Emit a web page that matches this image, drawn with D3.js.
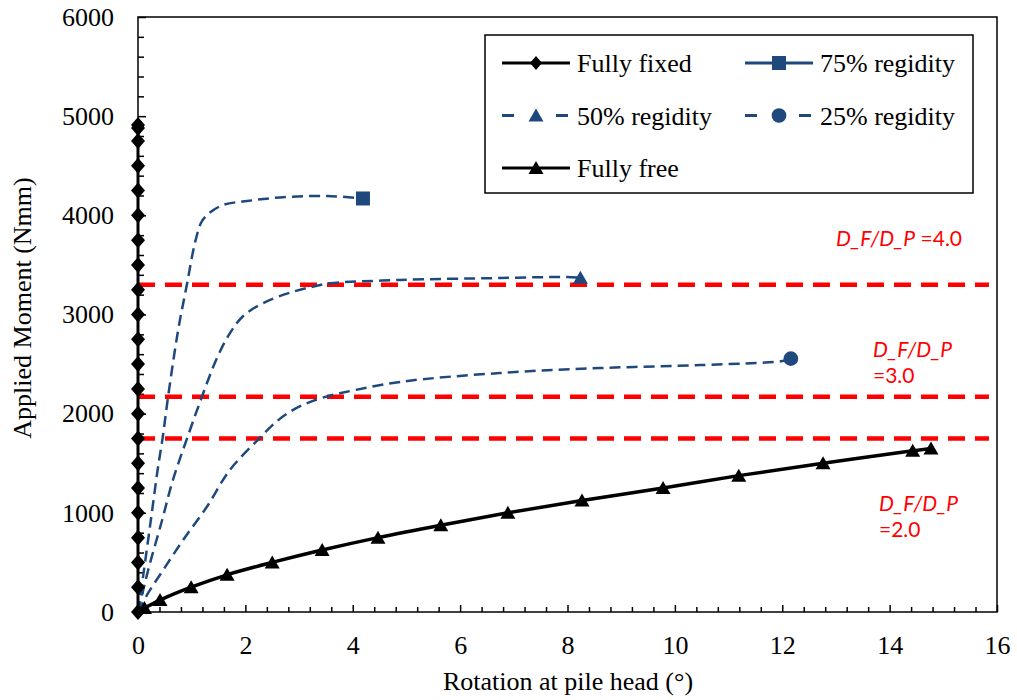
<!DOCTYPE html>
<html>
<head>
<meta charset="utf-8">
<script src="https://cdn.jsdelivr.net/npm/d3@7"></script>
<style>
  body { margin: 0; background: #fff; }
  text { font-family: "Liberation Serif", "Times New Roman", serif; }
</style>
</head>
<body>
<svg id="chart" width="1017" height="700"></svg>
<script>
// series (rotation in degrees, moment in Nmm)
const fixedRot = [0,0,0,0,0,0,0,0,0,0,0,0,0,0,0,0,0,0,0,0,0,0]
const fixedMoment = [0,250,500,750,1000,1250,1500,1750,2000,2250,2500,2750,3000,3250,3500,3750,4000,4250,4500,4750,4880,4910]

const r75Rot = [0,0.1,0.24,0.37,0.46,0.56,0.75,0.91,1.06,1.18,1.3,1.58,2.03,2.64,3.52,4.19]
const r75Moment = [0,380,930,1450,1760,2170,2850,3300,3720,3930,4010,4104,4144,4180,4195,4170]

const r50Rot = [0,0.19,0.45,0.65,0.92,1.19,1.47,1.71,1.96,2.33,2.83,3.33,3.58,4.88,6.74,7.99,8.24]
const r50Moment = [0,424,928,1331,1760,2170,2560,2810,2985,3115,3220,3290,3315,3348,3368,3378,3370]

const r25Rot = [0,0.19,0.47,0.84,1.28,1.71,2.23,2.59,2.85,3.1,3.4,3.8,4.88,6.74,8.6,10.47,12.0,12.16]
const r25Moment = [0,192,424,726,1059,1432,1734,1925,2025,2095,2155,2210,2320,2410,2460,2490,2530,2555]

const freeRot = [0.12,0.41,0.99,1.66,2.50,3.43,4.47,5.64,6.89,8.27,9.78,11.19,12.76,14.43,14.77]
const freeMoment = [40,120,250,375,500,625,750,875,1000,1125,1250,1375,1500,1625,1650]

const ratioLevels = [3300, 2170, 1750]
const ratioNames = ["D_F/D_P", "D_F/D_P", "D_F/D_P"]
const ratioValues = ["=4.0", "=3.0", "=2.0"]

const xMajor = [0,2,4,6,8,10,12,14,16]
const xMinor = [0.4,0.8,1.2,1.6,2.4,2.8,3.2,3.6,4.4,4.8,5.2,5.6,6.4,6.8,7.2,7.6,8.4,8.8,9.2,9.6,10.4,10.8,11.2,11.6,12.4,12.8,13.2,13.6,14.4,14.8,15.2,15.6]
const yMajor = [0,1000,2000,3000,4000,5000,6000]
const yMinor = [200,400,600,800,1200,1400,1600,1800,2200,2400,2600,2800,3200,3400,3600,3800,4200,4400,4600,4800,5200,5400,5600,5800]

const legendNames = ["Fully fixed", "75% regidity", "50% regidity", "25% regidity", "Fully free"]

const blue = "#1f497d"

const zip = (xs, ys) => xs.map((v, i) => ({x: v, y: ys[i]}))

let svg = d3.select("#chart")
let x = d3.scaleLinear().domain([0, 16]).range([138, 997]),
    y = d3.scaleLinear().domain([0, 6000]).range([612, 17])

svg.append("rect").attr("width", 1017).attr("height", 700).attr("fill", "#fff")

// marker shapes
const diamond = "M0,-8L7,0L0,8L-7,0Z"
const smallDiamond = "M0,-7L6,0L0,7L-6,0Z"
const triangle = "M0,-7L7.5,6L-7.5,6Z"
const square = "M-7,-7H7V7H-7Z"
const circle = d3.symbol(d3.symbolCircle, 170)()

// axes with inward ticks
const styleAxis = g => {
    g.select(".domain").remove()
    g.selectAll("line").attr("stroke", "#000").attr("stroke-width", 1.5)
    g.selectAll("text").style("font-family", '"Liberation Serif", "Times New Roman", serif').style("font-size", "26px").attr("fill", "#000")
}

svg.append("g").attr("transform", "translate(0,612)")
    .call(d3.axisBottom(x).tickValues(xMinor).tickFormat("").tickSizeInner(-5).tickSizeOuter(0))
    .call(styleAxis)
svg.append("g").attr("transform", "translate(0,612)")
    .call(d3.axisBottom(x).tickValues(xMajor).tickFormat(d3.format("d")).tickSizeInner(-7).tickSizeOuter(0).tickPadding(24))
    .call(styleAxis)
svg.append("g").attr("transform", "translate(138,0)")
    .call(d3.axisLeft(y).tickValues(yMinor).tickFormat("").tickSizeInner(-6).tickSizeOuter(0))
    .call(styleAxis)
svg.append("g").attr("transform", "translate(138,0)")
    .call(d3.axisLeft(y).tickValues(yMajor).tickFormat(d3.format("d")).tickSizeInner(-8).tickSizeOuter(0).tickPadding(24))
    .call(styleAxis)

// plot border
svg.append("rect")
    .attr("x", x(0)).attr("y", y(6000))
    .attr("width", x(16) - x(0)).attr("height", y(0) - y(6000))
    .attr("fill", "none").attr("stroke", "#000").attr("stroke-width", 1.5)

// D_F/D_P reference levels
svg.selectAll(".level").data(ratioLevels).enter().append("line")
    .attr("class", "level")
    .attr("x1", x(0)).attr("x2", x(15.85))
    .attr("y1", d => y(d)).attr("y2", d => y(d))
    .attr("stroke", "#ff0000").attr("stroke-width", 4.5)
    .attr("stroke-dasharray", "17,10")

let smooth = d3.line().curve(d3.curveCatmullRom.alpha(0.5)).x(d => x(d.x)).y(d => y(d.y))

const dashed = [
    {pts: zip(r75Rot, r75Moment), marker: square},
    {pts: zip(r50Rot, r50Moment), marker: triangle},
    {pts: zip(r25Rot, r25Moment), marker: circle}
]

dashed.forEach(s => {
    svg.append("path")
        .attr("d", smooth(s.pts))
        .attr("fill", "none").attr("stroke", blue)
        .attr("stroke-width", 2.5).attr("stroke-dasharray", "11,6")
    let last = s.pts[s.pts.length - 1]
    svg.append("path")
        .attr("d", s.marker)
        .attr("transform", "translate(" + x(last.x) + "," + y(last.y) + ")")
        .attr("fill", blue)
})

// fully free
let free = zip(freeRot, freeMoment)
svg.append("path")
    .attr("d", smooth(free))
    .attr("fill", "none").attr("stroke", "#000").attr("stroke-width", 3.5)
svg.selectAll(".free").data(free).enter().append("path")
    .attr("class", "free")
    .attr("d", triangle)
    .attr("transform", d => "translate(" + x(d.x) + "," + y(d.y) + ")")
    .attr("fill", "#000")

// fully fixed
let fixed = zip(fixedRot, fixedMoment)
svg.append("path")
    .attr("d", d3.line().x(d => x(d.x)).y(d => y(d.y))(fixed))
    .attr("fill", "none").attr("stroke", "#000").attr("stroke-width", 3)
svg.selectAll(".fixed").data(fixed).enter().append("path")
    .attr("class", "fixed")
    .attr("d", diamond)
    .attr("transform", d => "translate(" + x(d.x) + "," + y(d.y) + ")")
    .attr("fill", "#000")

// annotations
const anno = (name, value, xPos, yPos, split) => {
    let txt = svg.append("text")
        .attr("x", xPos).attr("y", yPos)
        .attr("fill", "#ff0000")
        .style("font-family", "Lato, 'Open Sans', sans-serif")
        .style("font-size", "21px")
    txt.append("tspan").style("font-style", "italic").text(name)
    if (split) {
        txt.append("tspan").attr("x", xPos).attr("dy", 26).text(value)
    } else {
        txt.append("tspan").text(" " + value)
    }
}
anno(ratioNames[0], ratioValues[0], 836, 246, false)
anno(ratioNames[1], ratioValues[1], 873, 357, true)
anno(ratioNames[2], ratioValues[2], 879, 511, true)

// axis titles
svg.append("text")
    .attr("x", 568).attr("y", 690)
    .attr("text-anchor", "middle")
    .style("font-size", "26px")
    .text("Rotation at pile head (°)")
svg.append("text")
    .attr("transform", "translate(31,308) rotate(-90)")
    .attr("text-anchor", "middle")
    .style("font-size", "26px")
    .text("Applied Moment (Nmm)")

// legend
let legend = svg.append("g")
legend.append("rect")
    .attr("x", 485).attr("y", 35).attr("width", 488).attr("height", 158)
    .attr("fill", "#fff").attr("stroke", "#000").attr("stroke-width", 1.5)

const legendItems = [
    {name: legendNames[0], col: 0, row: 0, color: "#000", marker: smallDiamond, dash: null},
    {name: legendNames[1], col: 1, row: 0, color: blue, marker: square, dash: null},
    {name: legendNames[2], col: 0, row: 1, color: blue, marker: triangle, dash: "12,42"},
    {name: legendNames[3], col: 1, row: 1, color: blue, marker: circle, dash: "12,42"},
    {name: legendNames[4], col: 0, row: 2, color: "#000", marker: triangle, dash: null}
]

let item = legend.selectAll(".item").data(legendItems).enter().append("g")
    .attr("class", "item")
    .attr("transform", d => "translate(" + (502 + d.col * 243) + "," + (63 + d.row * 52.5) + ")")

item.append("line")
    .attr("x1", 0).attr("x2", 68)
    .attr("stroke", d => d.color).attr("stroke-width", 3)
    .attr("stroke-dasharray", d => d.dash)
item.append("path")
    .attr("d", d => d.marker)
    .attr("transform", "translate(34,0)")
    .attr("fill", d => d.color)
item.append("text")
    .attr("x", 75).attr("y", 9)
    .style("font-size", "26px")
    .text(d => d.name)
</script>
</body>
</html>
